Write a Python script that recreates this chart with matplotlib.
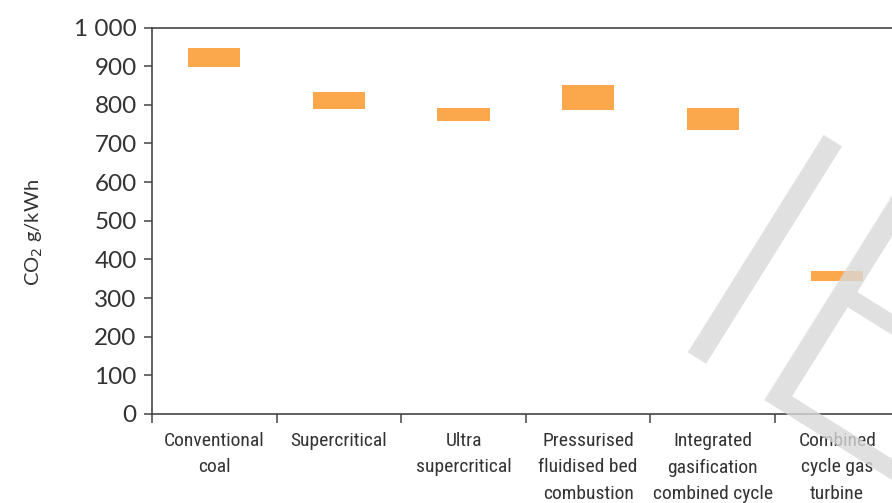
import matplotlib
matplotlib.use('Agg')
import matplotlib.pyplot as plt

# values (g CO2 per kWh, low / high end of each range)
categories = ['Conventional\ncoal', 'Supercritical', 'Ultra\nsupercritical',
              'Pressurised\nfluidised bed\ncombustion',
              'Integrated\ngasification\ncombined cycle',
              'Combined\ncycle gas\nturbine']
low = [898, 788, 758, 787, 736, 345]
high = [948, 834, 791, 851, 792, 371]
yticks = [0, 100, 200, 300, 400, 500, 600, 700, 800, 900, 1000]
ytick_labels = ['0', '100', '200', '300', '400', '500', '600', '700', '800', '900', '1 000']

text_col = '#333333'
axis_col = '#444444'
bar_col = '#fba84c'

fig = plt.figure(figsize=(8.92, 5.03), dpi=100)
W, H = 892, 503
ax = fig.add_axes([152 / W, 89 / H, 747.6 / W, 386.5 / H])

x = list(range(len(categories)))
heights = [h - l for l, h in zip(low, high)]
ax.bar(x, heights, bottom=low, width=0.42, color=bar_col, edgecolor='none', zorder=2)

ax.set_xlim(-0.5, 5.5)
ax.set_ylim(0, 1000)
ax.set_yticks(yticks)
ax.set_yticklabels(ytick_labels, fontsize=17.5, color=text_col, family=['Lato', 'DejaVu Sans'])
ax.tick_params(axis='y', length=6, width=1.1, color=axis_col, pad=5)

ax.set_xticks(x)
ax.set_xticklabels(categories, fontsize=14, color=text_col,
                   family=['Roboto Condensed', 'Roboto', 'DejaVu Sans'], linespacing=1.6, va='top')
ax.set_xticks([i - 0.5 for i in range(len(categories) + 1)], minor=True)
ax.tick_params(axis='x', which='major', length=0, pad=13)
ax.tick_params(axis='x', which='minor', length=6.5, width=1.1, color=axis_col, direction='out')

for s in ax.spines.values():
    s.set_color(axis_col)
    s.set_linewidth(1.2)

ax.set_ylabel('CO$_2$ g/kWh', fontsize=14.5, color=text_col, family=['Lato', 'DejaVu Sans'])
ax.yaxis.set_label_coords(-0.143, 0.47)

# faint "IEA" watermark in the bottom right corner
fig.text(0.728, 0.300, 'IEA', fontsize=259, family=['Roboto', 'DejaVu Sans'], fontweight=300,
         color='#d9d9d9', alpha=0.8, rotation=-32, rotation_mode='anchor',
         ha='left', va='baseline', zorder=5)

fig.savefig('out.png', dpi=100, facecolor='white')
